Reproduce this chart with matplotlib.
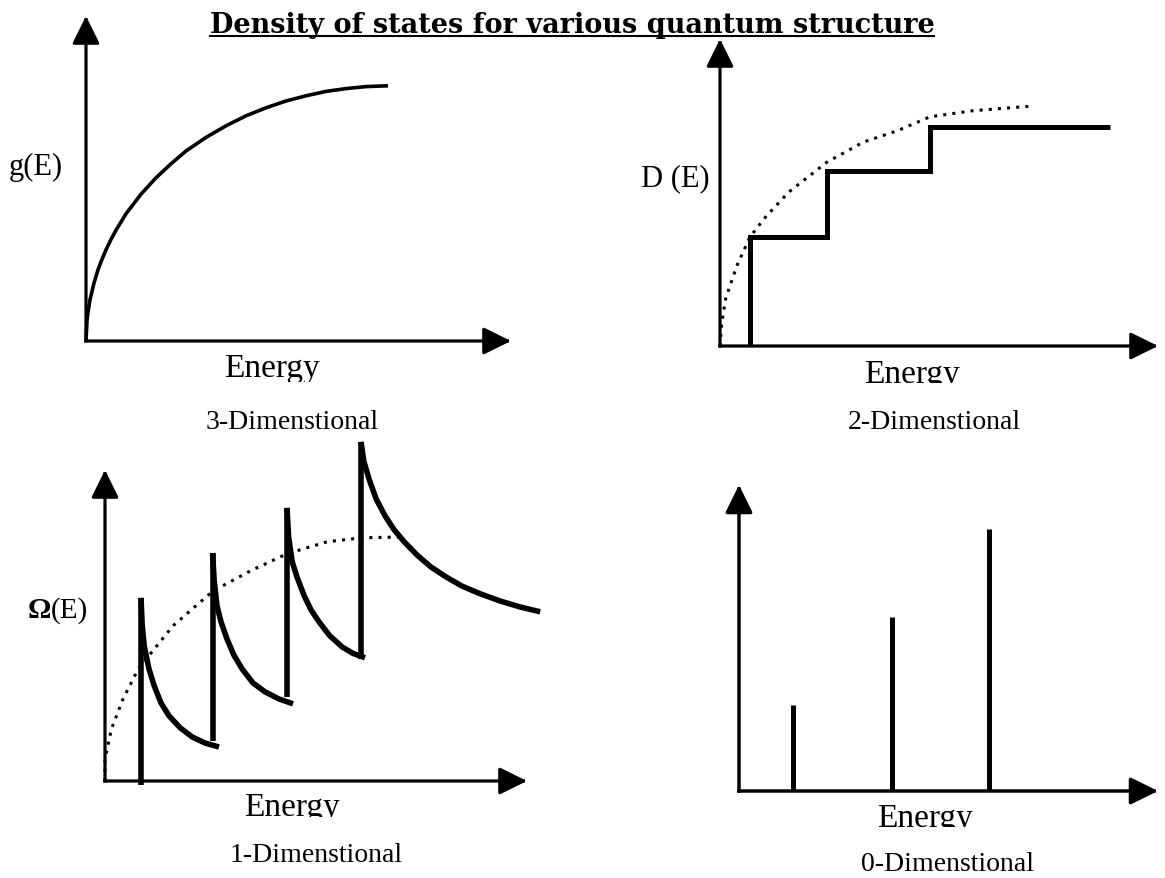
"""Density of states sketch for 3-D, 2-D, 1-D and 0-D quantum structures."""

import matplotlib
matplotlib.use("Agg")
import matplotlib.pyplot as plt
from matplotlib.lines import Line2D
from matplotlib.transforms import Bbox, TransformedBbox

W, H = 1165, 879
UNIT = 40.0  # pixels per data unit, same on every panel

TITLE = "Density of states for various quantum structure"

# 3-D bulk: g(E)
e3 = [0, 0.025, 0.05, 0.1, 0.2, 0.3, 0.375, 0.5, 0.625, 0.75, 1.0, 1.375, 1.75,
      2.125, 2.5, 3.0, 3.5, 4.0, 4.5, 5.0, 5.5, 6.0, 6.5, 7.0, 7.55]
g3 = [0, 0.52, 0.72, 1.03, 1.45, 1.78, 1.98, 2.28, 2.54, 2.77, 3.18, 3.67, 4.08,
      4.43, 4.75, 5.09, 5.38, 5.63, 5.83, 6.0, 6.13, 6.24, 6.31, 6.36, 6.38]

# 2-D well: step DOS with the bulk envelope
step_e = [0.75, 2.68, 5.25]
step_d = [2.73, 4.38, 5.48]
step_end = 9.75
env2_e = [0, 0.04, 0.14, 0.42, 0.75, 1.16, 1.72, 2.68, 3.59, 4.43, 5.25, 6.3, 7.83]
env2_d = [0, 0.55, 1.18, 2.0, 2.73, 3.25, 3.85, 4.6, 5.1, 5.38, 5.73, 5.88, 6.0]

# 1-D wire: subband edges and their 1/sqrt tails
sub_e = [0.9, 2.69, 4.55, 6.4]
sub_lo = [-0.1, 1.0, 2.1, 3.05]
sub_hi = [4.58, 5.7, 6.83, 8.48]
tail_e = [
    [0.9, 0.93, 0.98, 1.1, 1.23, 1.4, 1.6, 1.88, 2.18, 2.5, 2.85],
    [2.69, 2.73, 2.8, 2.9, 3.05, 3.22, 3.43, 3.7, 4.0, 4.35, 4.7],
    [4.55, 4.59, 4.68, 4.8, 4.98, 5.15, 5.35, 5.62, 5.93, 6.2, 6.5],
    [6.4, 6.47, 6.6, 6.78, 7.0, 7.23, 7.48, 7.8, 8.15, 8.53, 8.91, 9.38, 9.88, 10.38, 10.88],
]
tail_d = [
    [4.58, 3.9, 3.38, 2.8, 2.38, 1.95, 1.63, 1.33, 1.1, 0.95, 0.85],
    [5.7, 5.0, 4.38, 3.98, 3.55, 3.15, 2.8, 2.45, 2.23, 2.05, 1.93],
    [6.83, 6.1, 5.48, 5.1, 4.63, 4.28, 3.98, 3.63, 3.35, 3.19, 3.08],
    [8.48, 8.0, 7.55, 7.05, 6.63, 6.28, 5.98, 5.65, 5.35, 5.1, 4.88, 4.68, 4.5, 4.35, 4.23],
]
env1_e = [0, 0, 0.16, 0.45, 0.83, 1.7, 2.7, 3.63, 4.55, 5.55, 6.41, 7.43]
env1_d = [0, 0.55, 1.3, 2.05, 2.8, 3.88, 4.75, 5.25, 5.68, 5.98, 6.08, 6.1]

# 0-D dot: discrete levels
lev_e = [1.34, 3.82, 6.25]
lev_h = [2.16, 4.36, 6.55]

plt.rcParams["font.family"] = ["Liberation Serif", "DejaVu Serif"]

fig = plt.figure(figsize=(W / 100, H / 100), dpi=100)
fig.patch.set_facecolor("white")


def fx(x):
    return x / W


def fy(y):
    return 1 - y / H


def make_panel(origin, x_tip, y_tip, axis_lw=2.3):
    ox, oy = origin
    w, h = x_tip - ox, oy - y_tip
    ax = fig.add_axes([fx(ox), fy(oy), w / W, h / H])
    ax.set_xlim(0, w / UNIT)
    ax.set_ylim(0, h / UNIT)
    ax.axis("off")
    style = "-|>,head_length=0.85,head_width=0.42"
    for tip in [(1, 0), (0, 1)]:
        ax.annotate("", xy=tip, xytext=(0, 0), xycoords="axes fraction",
                    arrowprops=dict(arrowstyle=style, color="black", lw=axis_lw,
                                    mutation_scale=20, shrinkA=0, shrinkB=0,
                                    capstyle="projecting"))
    return ax


def label(x, y, s, size, clip_at=None, **kw):
    t = fig.text(fx(x), fy(y), s, fontsize=size, ha="center", va="baseline", **kw)
    if clip_at is not None:
        box = TransformedBbox(Bbox([[0, fy(clip_at)], [1, 1]]), fig.transFigure)
        t.set_clip_box(box)
        t.set_clip_on(True)
    return t


line = dict(color="black", solid_capstyle="butt", clip_on=False)
dotted = dict(color="black", lw=2.2, linestyle=(0, (1, 2)), clip_on=False)

# 3-D
ax1 = make_panel((86, 342), 511, 17)
ax1.plot(e3, g3, lw=2.6, solid_joinstyle="round", **line)
label(36, 175, "g(E)", 22)
label(272, 377, "Energy", 24, clip_at=383)
label(292, 429, "3-Dimenstional", 20)

# 2-D
ax2 = make_panel((720, 347), 1158, 40)
ax2.plot(env2_e, env2_d, **dotted)
xs = [step_e[0]] + step_e + [step_end]
ys = [0] + step_d + [step_d[-1]]
ax2.plot(xs, ys, drawstyle="steps-post", lw=3.6, solid_joinstyle="miter", **line)
label(675, 186, "D (E)", 22)
label(912, 383, "Energy", 24, clip_at=384)
label(934, 429, "2-Dimenstional", 20)

# 1-D
ax3 = make_panel((105, 782), 527, 471)
ax3.plot(env1_e, env1_d, **dotted)
ax3.vlines(sub_e, sub_lo, sub_hi, lw=4.0, color="black", clip_on=False)
for te, td in zip(tail_e, tail_d):
    ax3.plot(te, td, lw=4.0, solid_joinstyle="round", **line)
fig.text(fx(51), fy(618), "\u03a9", fontsize=21, fontweight="bold", ha="right", va="baseline")
fig.text(fx(51), fy(618), "(E)", fontsize=21, ha="left", va="baseline")
label(292, 816, "Energy", 24, clip_at=818)
label(316, 862, "1-Dimenstional", 20)

# 0-D
ax4 = make_panel((739, 792), 1158, 486, axis_lw=2.5)
ax4.vlines(lev_e, 0, lev_h, lw=3.6, color="black", clip_on=False)
label(925, 827, "Energy", 24, clip_at=828)
label(948, 871, "0-Dimenstional", 20)

# underlined bold title
title = fig.text(fx(572), fy(33), TITLE, fontsize=19.5, fontweight="bold",
                 family="DejaVu Serif", ha="center", va="baseline")
fig.canvas.draw()
bb = title.get_window_extent().transformed(fig.transFigure.inverted())
fig.add_artist(Line2D([bb.x0, bb.x1], [fy(37), fy(37)], transform=fig.transFigure,
                      color="black", lw=1.5))

fig.savefig("out.png", dpi=100, facecolor="white")
